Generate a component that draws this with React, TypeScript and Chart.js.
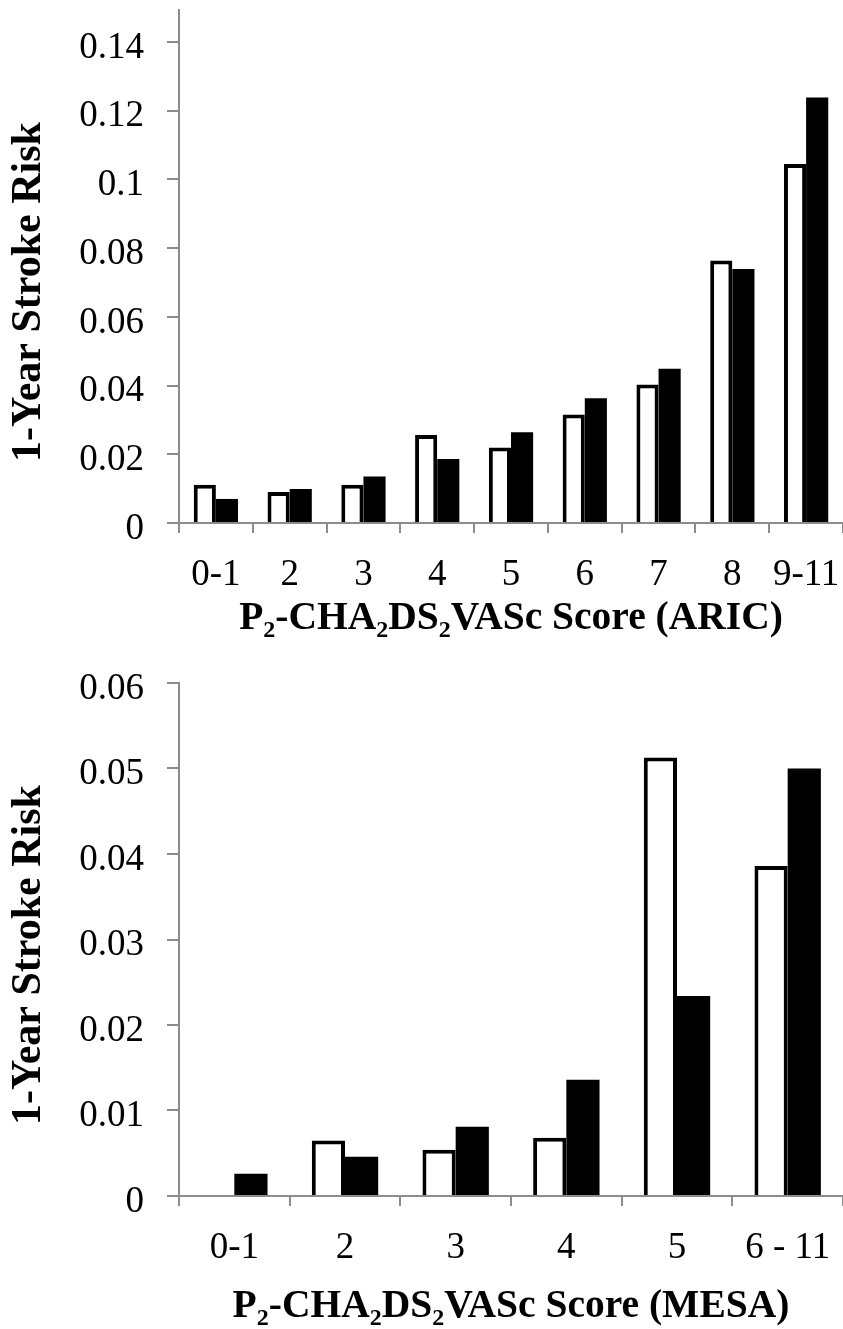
import React, { useEffect, useRef } from "react";
import { Chart, registerables } from "chart.js";

Chart.register(...registerables);

// ---------- data ----------
const aricCategories = ["0-1", "2", "3", "4", "5", "6", "7", "8", "9-11"];
const aricWhite = [0.0111, 0.009, 0.0111, 0.0256, 0.022, 0.0316, 0.0403, 0.0764, 0.1045];
const aricBlack = [0.007, 0.0099, 0.0135, 0.0186, 0.0264, 0.0363, 0.0449, 0.0739, 0.1238];
const aricTicks = [0, 0.02, 0.04, 0.06, 0.08, 0.1, 0.12, 0.14];
const aricTitleParts = [
  { t: "P" }, { t: "2", sub: true }, { t: "-CHA" }, { t: "2", sub: true },
  { t: "DS" }, { t: "2", sub: true }, { t: "VASc Score (ARIC)" },
];

const mesaCategories = ["0-1", "2", "3", "4", "5", "6 - 11"];
const mesaWhite = [0, 0.0065, 0.0054, 0.0068, 0.0513, 0.0386];
const mesaBlack = [0.0026, 0.0046, 0.0081, 0.0136, 0.0234, 0.05];
const mesaTicks = [0, 0.01, 0.02, 0.03, 0.04, 0.05, 0.06];
const mesaTitleParts = [
  { t: "P" }, { t: "2", sub: true }, { t: "-CHA" }, { t: "2", sub: true },
  { t: "DS" }, { t: "2", sub: true }, { t: "VASc Score (MESA)" },
];

const yTitleText = "1-Year Stroke Risk";

// ---------- styling ----------
const FAMILY = '"Liberation Serif", "Times New Roman", serif';
const AXIS = "#8c8c8c";

const titlePlugin = {
  id: "panelTitles",
  afterDraw(chart: any, _args: any, opts: any) {
    const ctx = chart.ctx;
    const ca = chart.chartArea;
    ctx.save();
    ctx.fillStyle = "#000";
    // x title with subscripts
    const bigSize = opts.xSize;
    const smallSize = Math.round(bigSize * 0.62);
    const bigFont = `bold ${bigSize}px ${FAMILY}`;
    const smallFont = `bold ${smallSize}px ${FAMILY}`;
    let total = 0;
    for (const p of opts.parts) {
      ctx.font = p.sub ? smallFont : bigFont;
      total += ctx.measureText(p.t).width;
    }
    let x = (ca.left + ca.right) / 2 - total / 2;
    const baseY = ca.bottom + opts.xOffset;
    ctx.textBaseline = "alphabetic";
    ctx.textAlign = "left";
    for (const p of opts.parts) {
      ctx.font = p.sub ? smallFont : bigFont;
      ctx.fillText(p.t, x, p.sub ? baseY + 8 : baseY);
      x += ctx.measureText(p.t).width;
    }
    // y title (rotated)
    ctx.translate(opts.yX, opts.yCenter);
    ctx.rotate(-Math.PI / 2);
    ctx.font = `bold ${opts.ySize}px ${FAMILY}`;
    ctx.textAlign = "center";
    ctx.textBaseline = "middle";
    ctx.fillText(yTitleText, 0, 0);
    ctx.restore();
  },
};

function fmt(v: number) {
  return String(Number(v.toFixed(2)));
}

function makeConfig(
  categories: string[],
  white: number[],
  black: number[],
  tickVals: number[],
  yMax: number,
  padTop: number,
  xAxisHeight: number,
  parts: any[],
  xOffset: number,
  yCenter: number
): any {
  return {
    type: "bar",
    data: {
      labels: categories,
      datasets: [
        {
          data: white,
          backgroundColor: "#ffffff",
          borderColor: "#000000",
          borderWidth: 4,
          borderSkipped: "start",
          categoryPercentage: 0.6,
          barPercentage: 1,
        },
        {
          data: black,
          backgroundColor: "#000000",
          borderColor: "#000000",
          borderWidth: 0,
          categoryPercentage: 0.6,
          barPercentage: 1,
        },
      ],
    },
    options: {
      responsive: false,
      animation: false,
      events: [],
      layout: { padding: { top: padTop, right: 0, left: 0, bottom: 0 } },
      plugins: {
        legend: { display: false },
        tooltip: { enabled: false },
        panelTitles: {
          parts,
          xSize: 39.5,
          xOffset,
          ySize: 42,
          yX: 29,
          yCenter,
        },
      },
      scales: {
        x: {
          type: "category",
          z: 1,
          offset: true,
          grid: {
            display: true,
            offset: true,
            drawOnChartArea: false,
            drawTicks: true,
            tickLength: 10,
            color: AXIS,
            lineWidth: 2,
          },
          border: { display: true, color: AXIS, width: 2 },
          ticks: {
            color: "#000",
            font: { family: FAMILY, size: 37 },
            padding: 20,
            maxRotation: 0,
            minRotation: 0,
            autoSkip: false,
          },
          afterFit: (s: any) => {
            s.height = xAxisHeight;
            s.paddingLeft = 0;
            s.paddingRight = 0;
          },
        },
        y: {
          min: 0,
          max: yMax,
          grid: {
            display: true,
            drawOnChartArea: false,
            drawTicks: true,
            tickLength: 12,
            color: AXIS,
            lineWidth: 2,
          },
          border: { display: true, color: AXIS, width: 2 },
          ticks: {
            color: "#000",
            font: { family: FAMILY, size: 37 },
            padding: 23,
            labelOffset: 6,
            callback: (v: any) => fmt(Number(v)),
          },
          afterBuildTicks: (s: any) => {
            s.ticks = tickVals.map((v) => ({ value: v }));
          },
          afterFit: (s: any) => {
            s.width = 179;
            s.paddingTop = 0;
            s.paddingBottom = 0;
          },
        },
      },
    },
    plugins: [titlePlugin],
  };
}

function Panel(props: { config: any; height: number }) {
  const ref = useRef<HTMLCanvasElement | null>(null);
  useEffect(() => {
    if (!ref.current) return;
    const chart = new Chart(ref.current, props.config);
    return () => chart.destroy();
  }, []);
  return (
    <canvas
      ref={ref}
      width={843}
      height={props.height}
      style={{ display: "block", width: 843, height: props.height }}
    />
  );
}

export default function App() {
  const topCfg = makeConfig(
    aricCategories, aricWhite, aricBlack, aricTicks,
    0.1493, 10, 122, aricTitleParts, 106, 292
  );
  const bottomCfg = makeConfig(
    mesaCategories, mesaWhite, mesaBlack, mesaTicks,
    0.06, 38, 133, mesaTitleParts, 121, 310
  );
  return (
    <div
      style={{
        position: "absolute",
        left: 0,
        top: 0,
        width: 843,
        height: 1329,
        background: "#fff",
        overflow: "hidden",
      }}
    >
      <Panel config={topCfg} height={645} />
      <Panel config={bottomCfg} height={684} />
    </div>
  );
}
